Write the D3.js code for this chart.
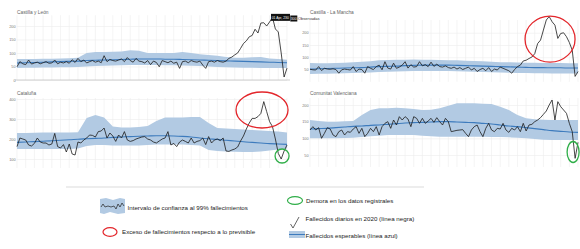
<!DOCTYPE html>
<html>
<head>
<meta charset="utf-8">
<script src="https://cdnjs.cloudflare.com/ajax/libs/d3/7.8.5/d3.min.js"></script>
<style>
body { margin: 0; background: #fff; }
svg text { font-family: "Liberation Sans", Arial, sans-serif; }
</style>
</head>
<body>
<svg id="chart"></svg>
<script>
const width = 580;
const height = 249;

// x positions are day indices (2 days per step); band/expected sampled every 3 steps
const knots = [0,3,6,9,12,15,18,21,24,27,30,33,36,39,42,45,48,51,54,57,60,63,66,69,72,75,78,81,84,87,90,93];

// Castilla y León
const cylObs = [49,68,60,57,74,59,63,66,60,64, 68,62,63,74,60,66,63,68,62,75, 65,80,68,74,63,68,72,66,70,64,
  90,68,76,72,70,74,78,68,83,72, 66,80,70,68,63,72,57,70,65,49, 72,68,64,70,62,66,43,68,70,64,
  72,68,66,70,55,43,68,70,66,72, 68,66,70,80,
  85,93,100,117,135,145,160,165,188,174,211,212,200,215,232,189,178,100,11,44];
const cylExp = [63,64,65,66,67,68,69,70,72,73,74,75,76,77,78,78,78,77,77,76,75,74,73,72,71,70,69,68,67,66,65,64];
const cylHi = [78,78,78,79,79,80,81,82,100,104,104,105,106,110,108,100,100,100,100,104,100,95,93,90,85,82,82,84,85,80,78,75];
const cylLo = [44,45,45,46,46,47,47,48,50,52,53,54,55,56,56,56,56,55,55,54,53,52,50,48,47,46,45,45,44,44,44,44];

// Castilla - La Mancha
const clmObs = [51,49,48,62,46,55,52,51,53,50, 35,49,52,50,48,62,42,52,50,35, 62,55,50,62,68,49,82,56,52,76,
  55,60,68,82,56,70,60,62,82,65, 70,62,80,63,72,62,60,65,58,55, 60,52,58,50,55,60,48,55,42,50,
  55,45,58,42,52,48,60,55,50,45,
  35,50,62,68,85,88,95,101,115,156,170,211,252,266,245,231,177,197,200,184,160,129,22,42];
const clmExp = [52,53,54,55,56,57,58,60,62,63,64,66,67,68,68,68,68,67,66,65,64,63,62,61,60,59,58,58,57,57,56,56];
const clmHi = [77,76,76,77,78,80,82,84,88,89,90,90,91,90,90,89,88,88,86,85,84,82,80,80,79,78,78,77,77,77,76,76];
const clmLo = [32,33,33,34,35,36,37,38,40,41,42,43,44,44,44,44,44,43,42,41,40,39,38,37,36,36,35,35,34,34,34,34];

// Cataluña
const catObs = [162,205,200,195,170,165,178,205,185,180, 180,170,175,228,162,155,172,135,175,125,
  120,185,180,195,205,220,218,210,237,240, 255,205,230,215,188,220,205,237,195,188,
  192,200,205,210,212,200,195,185,180,190, 200,205,237,170,178,162,185,195,188,180,
  205,180,188,192,205,172,212,180,195,200, 192,205,140,138,145,150,160,190,215,250,
  280,303,303,312,328,387,337,287,262,200, 128,100,140,170];
const catExp = [183,185,187,189,191,194,196,199,201,203,205,208,210,212,214,215,216,216,215,213,210,205,201,198,194,190,186,183,180,177,175,173];
const catHi = [230,230,231,232,232,233,233,234,305,320,308,262,258,258,260,265,290,308,308,308,310,310,280,255,252,250,248,245,242,240,238,232];
const catLo = [150,150,150,150,150,150,150,152,165,170,170,168,168,168,168,170,172,172,172,172,170,168,145,140,138,136,135,135,138,142,148,152];

// Comunitat Valenciana
const cvObs = [125,135,125,132,100,115,132,128,110,105, 120,125,110,120,118,128,135,115,130,105,
  115,130,120,135,110,135,145,150,130,155, 140,165,155,165,158,135,165,160,145,160,
  145,152,160,148,162,150,140,160,150,120, 122,124,125,126,115,105,125,135,140,120,
  105,130,145,125,120,130,128,145,125,118, 130,125,135,120,145,122,140,142,150,155,
  162,172,182,200,215,155,210,195,185,175, 145,120,40,88];
const cvExp = [128,129,130,132,134,136,137,139,140,142,144,146,147,148,149,150,150,149,148,147,145,143,140,137,135,132,129,126,123,121,119,118];
const cvHi = [155,152,150,150,151,152,170,185,190,190,192,190,188,185,186,190,198,205,205,205,204,203,195,185,170,160,157,156,155,155,155,155];
const cvLo = [100,100,100,100,101,102,104,106,108,110,110,110,110,108,106,105,105,105,105,105,105,104,104,103,102,100,98,96,95,95,95,95];

const panels = [
  { title: "Castilla y León", obs: cylObs, exp: cylExp, hi: cylHi, lo: cylLo,
    domain: [0, 240], ticks: [0, 50, 100, 150, 200], left: 17, right: 287, top: 15.2, bottom: 80, titleY: 13.5, baseline: true },
  { title: "Castilla - La Mancha", obs: clmObs, exp: clmExp, hi: clmHi, lo: clmLo,
    domain: [0, 252], ticks: [50, 100, 150, 200], left: 310, right: 578, top: 20, bottom: 81.8, titleY: 13.5 },
  { title: "Cataluña", obs: catObs, exp: catExp, hi: catHi, lo: catLo,
    domain: [55, 405], ticks: [100, 200, 300, 400], left: 17, right: 287, top: 98, bottom: 168, titleY: 94.5 },
  { title: "Comunitat Valenciana", obs: cvObs, exp: cvExp, hi: cvHi, lo: cvLo,
    domain: [14, 221], ticks: [50, 100, 150, 200], left: 310, right: 578, top: 98, bottom: 167, titleY: 94.5 }
];

const svg = d3.select("#chart")
  .attr("width", width)
  .attr("height", height);

const bandColor = "#b2cae3";
const expColor = "#3d7bbd";

panels.forEach(p => {
  const x = d3.scaleLinear().domain([0, 93]).range([p.left, p.right]);
  const y = d3.scaleLinear().domain(p.domain).range([p.bottom, p.top]);
  p.x = x; p.y = y;
  const g = svg.append("g");

  g.selectAll(".vgrid")
    .data(knots)
    .enter()
    .append("line")
    .attr("x1", d => x(d)).attr("x2", d => x(d))
    .attr("y1", p.top).attr("y2", p.bottom)
    .attr("stroke", "#ececec").attr("stroke-width", 0.6);

  const yAxis = d3.axisLeft(y).tickValues(p.ticks).tickSize(-(p.right - p.left)).tickPadding(1.5);
  g.append("g")
    .attr("transform", `translate(${p.left},0)`)
    .call(yAxis)
    .call(a => a.select(".domain").remove())
    .call(a => a.selectAll("line").attr("stroke", "#ececec").attr("stroke-width", 0.6))
    .call(a => a.selectAll("text").attr("font-size", 3.8).attr("fill", "#777"));

  if (p.baseline) {
    g.append("line")
      .attr("x1", p.left - 2).attr("x2", p.right + 3)
      .attr("y1", y(0)).attr("y2", y(0))
      .attr("stroke", "#bbb").attr("stroke-width", 0.7);
  }

  const area = d3.area()
    .x((d, i) => x(knots[i]))
    .y0((d, i) => y(p.lo[i]))
    .y1(d => y(d));
  g.append("path")
    .datum(p.hi)
    .attr("d", area)
    .attr("fill", bandColor);

  const expLine = d3.line()
    .x((d, i) => x(knots[i]))
    .y(d => y(d))
    .curve(d3.curveMonotoneX);
  g.append("path")
    .datum(p.exp)
    .attr("d", expLine)
    .attr("fill", "none")
    .attr("stroke", expColor)
    .attr("stroke-width", 1.1);

  const obsLine = d3.line()
    .x((d, i) => x(i))
    .y(d => y(d));
  g.append("path")
    .datum(p.obs)
    .attr("d", obsLine)
    .attr("fill", "none")
    .attr("stroke", "#1a1a1a")
    .attr("stroke-width", 0.8);

  g.append("text")
    .attr("x", p.left)
    .attr("y", p.titleY)
    .attr("font-size", 4.8)
    .attr("fill", "#666")
    .text(p.title);
});

// tooltip on the Castilla y León peak
const tipIdx = 88;
const p0 = panels[0];
svg.append("rect")
  .attr("x", p0.x(tipIdx) - 1.5)
  .attr("y", p0.y(p0.obs[tipIdx]) - 3.5)
  .attr("width", 19)
  .attr("height", 7)
  .attr("fill", "#111");
svg.append("text")
  .attr("x", p0.x(tipIdx) - 0.8)
  .attr("y", p0.y(p0.obs[tipIdx]) + 1.2)
  .attr("font-size", 3.4)
  .attr("fill", "#fff")
  .text("01 Apr, 230");

// cut tooltip on the Castilla - La Mancha image
svg.append("rect").attr("x", 290.3).attr("y", 15.5).attr("width", 7).attr("height", 6).attr("fill", "#111");
svg.append("text").attr("x", 290.8).attr("y", 19.8).attr("font-size", 3.5).attr("fill", "#fff").text("300");
svg.append("text").attr("x", 298).attr("y", 20).attr("font-size", 4).attr("fill", "#333").text("Observadas");

// annotations
const marks = [
  { panel: 1, i: 83.3, v: 174, rx: 25, ry: 23, color: "#e3262b" },
  { panel: 2, i: 84.4, v: 345, rx: 26, ry: 18, color: "#e3262b" },
  { panel: 2, i: 91.3, v: 115, rx: 7, ry: 7, color: "#2fae48" },
  { panel: 3, i: 91.3, v: 59, rx: 6, ry: 10.5, color: "#2fae48" }
];
svg.selectAll(".mark")
  .data(marks)
  .enter()
  .append("ellipse")
  .attr("cx", d => panels[d.panel].x(d.i))
  .attr("cy", d => panels[d.panel].y(d.v))
  .attr("rx", d => d.rx)
  .attr("ry", d => d.ry)
  .attr("fill", "none")
  .attr("stroke", d => d.color)
  .attr("stroke-width", 1.3);

// legend
svg.append("line")
  .attr("x1", 66).attr("x2", 424).attr("y1", 187).attr("y2", 187)
  .attr("stroke", "#ccc").attr("stroke-width", 0.7);

const lg = svg.append("g");
// band + black line icon
lg.append("path")
  .attr("d", "M100,199 L106,198 L113,200 L120,198 L125,199 L125,213 L118,214 L110,212 L104,214 L100,213 Z")
  .attr("fill", bandColor);
lg.append("path")
  .attr("d", "M101,207 L103,204 L105,207 L108,206 L111,207 L114,206 L116,209 L118,204 L120,207 L122,203 L124,206")
  .attr("fill", "none").attr("stroke", "#222").attr("stroke-width", 0.7);
lg.append("text").attr("x", 127.5).attr("y", 210).text("Intervalo de confianza al 99% fallecimientos");

lg.append("ellipse").attr("cx", 110).attr("cy", 232).attr("rx", 7).attr("ry", 4.3)
  .attr("fill", "none").attr("stroke", "#e3262b").attr("stroke-width", 1.2);
lg.append("text").attr("x", 122).attr("y", 233.5).text("Exceso de fallecimientos respecto a lo previsible");

lg.append("ellipse").attr("cx", 295).attr("cy", 200.5).attr("rx", 7.5).attr("ry", 3.8)
  .attr("fill", "none").attr("stroke", "#2fae48").attr("stroke-width", 1.2);
lg.append("text").attr("x", 306).attr("y", 203).text("Demora en los datos registrales");

lg.append("path").attr("d", "M290.5,224 L293,228 L299,217")
  .attr("fill", "none").attr("stroke", "#222").attr("stroke-width", 0.7);
lg.append("rect").attr("x", 289).attr("y", 231).attr("width", 16).attr("height", 7).attr("fill", bandColor);
lg.append("line").attr("x1", 289).attr("x2", 305).attr("y1", 234.5).attr("y2", 234.5)
  .attr("stroke", expColor).attr("stroke-width", 1);
lg.append("text").attr("x", 305.5).attr("y", 221).text("Fallecidos diarios en 2020 (línea negra)");
lg.append("text").attr("x", 305.5).attr("y", 238).text("Fallecidos esperables (línea azul)");

lg.selectAll("text").attr("font-size", 6.2).attr("fill", "#222");
</script>
</body>
</html>
